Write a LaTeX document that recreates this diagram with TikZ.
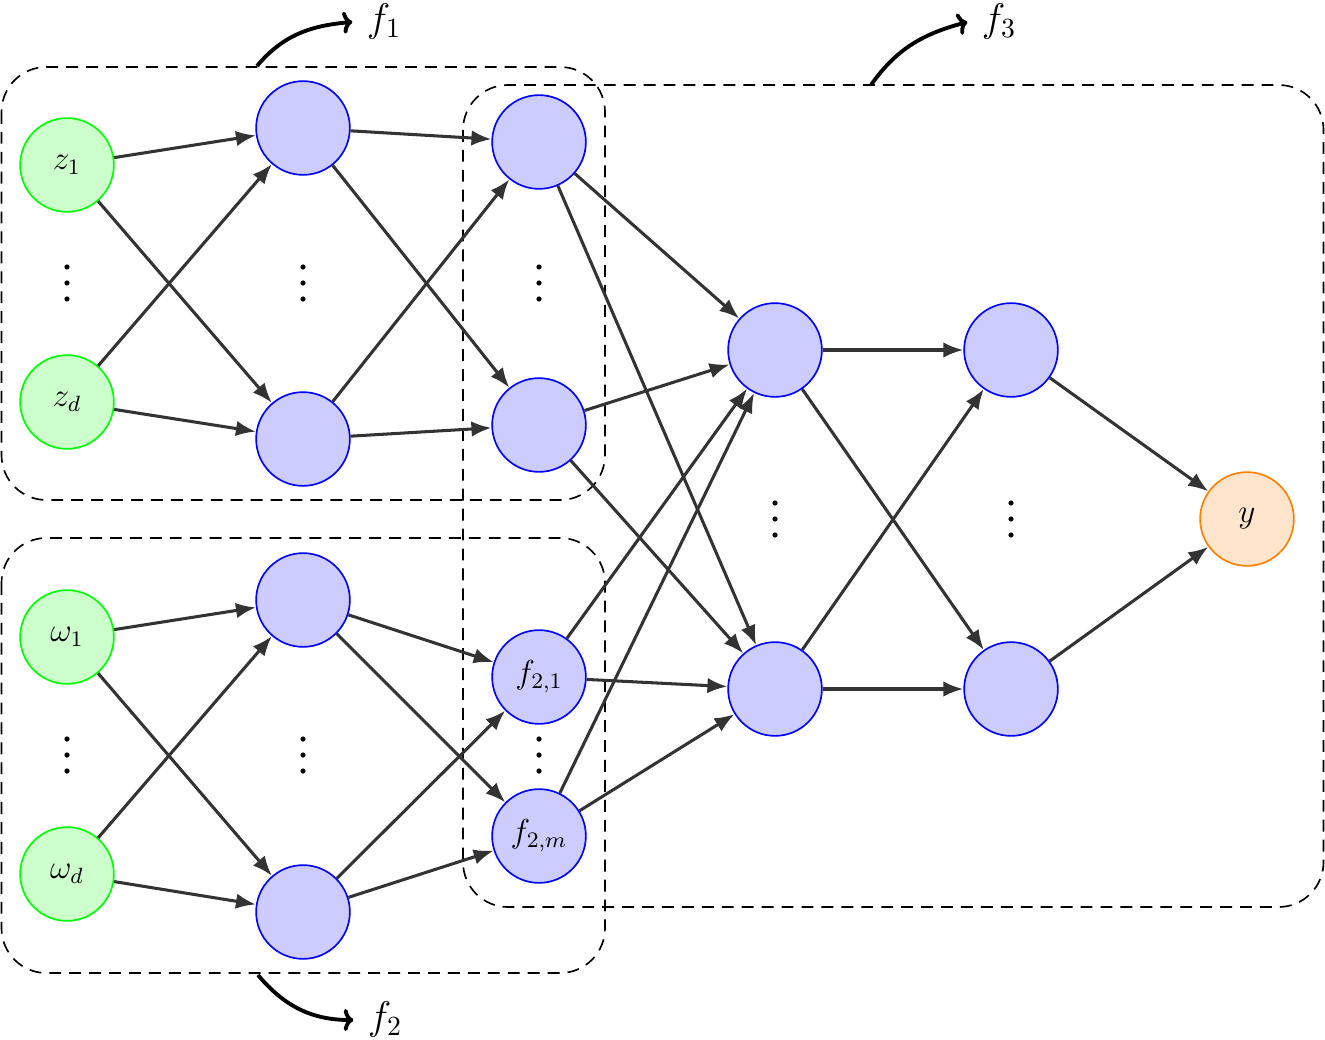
\documentclass[tikz,border=0pt]{standalone}
\usetikzlibrary{arrows.meta}
\begin{document}
\begin{tikzpicture}[x=0.0127cm,y=-0.0127cm,
  neuron/.style={circle,minimum size=1.19cm,inner sep=0pt,line width=0.6pt,font=\large},
  inp/.style={neuron,draw=green,fill=green!20},
  hid/.style={neuron,draw=blue,fill=blue!20},
  outp/.style={neuron,draw=orange,fill=orange!20},
  edge/.style={draw=black!80,line width=1.1pt,-{Latex[length=7.2pt,width=5.6pt]}},
  grp/.style={draw=black,line width=0.6pt,dash pattern=on 4.3pt off 2.9pt,rounded corners=0.57cm},
  flab/.style={inner sep=5pt,font=\Large},
  farrow/.style={draw=black,line width=1.4pt,-{To[length=3.5pt,width=8pt]}},
  vdotz/.pic={\fill (0,-16) circle (2.6) (0,0) circle (2.6) (0,16) circle (2.6);}]
\useasboundingbox (0,0) rectangle (1325,1040);
% groups
\draw[grp] (1.5,67) rectangle (605,500);
\draw[grp] (1.5,538) rectangle (605,973);
\draw[grp] (463,85) rectangle (1323.5,907);
% nodes
\node[inp] (z1) at (67,165) {$z_1$};
\node[inp] (zd) at (67,402) {$z_d$};
\node[inp] (w1) at (67,637) {$\omega_1$};
\node[inp] (wd) at (67,874) {$\omega_d$};
\node[hid] (a1) at (303,128) {};
\node[hid] (a2) at (303,439) {};
\node[hid] (b1) at (303,600) {};
\node[hid] (b2) at (303,912) {};
\node[hid] (c1) at (539,142) {};
\node[hid] (c2) at (539,425) {};
\node[hid] (f21) at (539,677) {$f_{2,1}$};
\node[hid] (f2m) at (539,836) {$f_{2,m}$};
\node[hid] (d1) at (775,350) {};
\node[hid] (d2) at (775,689) {};
\node[hid] (e1) at (1011,350) {};
\node[hid] (e2) at (1011,689) {};
\node[outp] (y) at (1247,519) {$y$};
% dots
\foreach \p in {(67,283),(67,755),(303,283),(303,755),(539,283),(539,755),(775,519),(1011,519)}
  \pic at \p {vdotz};
% edges
\foreach \s in {z1,zd} \foreach \t in {a1,a2} \draw[edge] (\s) -- (\t);
\foreach \s in {a1,a2} \foreach \t in {c1,c2} \draw[edge] (\s) -- (\t);
\foreach \s in {w1,wd} \foreach \t in {b1,b2} \draw[edge] (\s) -- (\t);
\foreach \s in {b1,b2} \foreach \t in {f21,f2m} \draw[edge] (\s) -- (\t);
\foreach \s in {c1,c2,f21,f2m} \foreach \t in {d1,d2} \draw[edge] (\s) -- (\t);
\foreach \s in {d1,d2} \foreach \t in {e1,e2} \draw[edge] (\s) -- (\t);
\foreach \s in {e1,e2} \draw[edge] (\s) -- (y);
% labels
\node[flab] (L1) at (384,22) {$f_1$};
\node[flab] (L3) at (999,22) {$f_3$};
\node[flab] (L2) at (385,1020) {$f_2$};
\coordinate (s1) at (257,66);
\coordinate (s3) at (871,85);
\coordinate (s2) at (258,975);
\draw[farrow] (s1) to[out=50,in=185] (L1.west);
\draw[farrow] (s3) to[out=55,in=195] (L3.west);
\draw[farrow] (s2) to[out=-50,in=180] (L2.west);
\end{tikzpicture}
\end{document}
